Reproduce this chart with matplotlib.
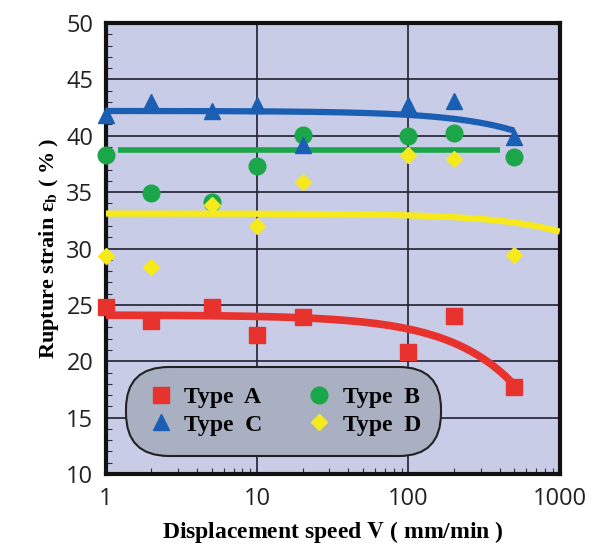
import numpy as np
import matplotlib.pyplot as plt
from matplotlib.ticker import MultipleLocator, LogLocator, NullFormatter

plt.rcParams['mathtext.fontset'] = 'stix'

# Vitesses de déplacement (mm/min)
speed = [1, 2, 5, 10, 20, 100, 200, 500]

# Déformation à la rupture (%) pour chaque type
type_a = [24.8, 23.6, 24.8, 22.3, 23.9, 20.8, 24.0, 17.7]
type_b = [38.3, 34.9, 34.1, 37.3, 40.1, 40.0, 40.2, 38.1]
type_c = [41.8, 43.0, 42.2, 42.7, 39.2, 42.7, 43.1, 39.9]
type_d = [29.3, 28.4, 33.9, 32.0, 35.9, 38.3, 37.9, 29.4]

# Droites de tendance  y = a - b*V  et leur étendue en V
fit_a = (24.1, 0.0124, 1, 500)
fit_b = (38.7, 0.0, 1.2, 400)
fit_c = (42.2, 0.0035, 1, 500)
fit_d = (33.1, 0.0016, 1, 1000)

red = '#e8322e'
green = '#1ca64a'
blue = '#1a5fb4'
yellow = '#f7ea1c'

fig = plt.figure(figsize=(5.98, 5.58), dpi=100)
ax = fig.add_axes([0.177, 0.1505, 0.759, 0.8083])
ax.set_facecolor('#c8cce6')

for (a, b, v0, v1), c, lw in [(fit_a, red, 5.5), (fit_c, blue, 4.5),
                              (fit_b, green, 4.0), (fit_d, yellow, 4.5)]:
    v = np.logspace(np.log10(v0), np.log10(v1), 200)
    ax.plot(v, a - b * v, color=c, lw=lw, solid_capstyle='butt', zorder=3)

ha, = ax.plot(speed, type_a, 's', color=red, ms=11, ls='none', zorder=4, clip_on=False)
hb, = ax.plot(speed, type_b, 'o', color=green, ms=12, ls='none', zorder=4, clip_on=False)
hc, = ax.plot(speed, type_c, '^', color=blue, ms=12, ls='none', zorder=4, clip_on=False)
hd, = ax.plot(speed, type_d, 'D', color=yellow, ms=8, ls='none', zorder=4, clip_on=False)

ax.set_xscale('log')
ax.set_xlim(1, 1000)
ax.set_ylim(10, 50)
ax.set_xticks([1, 10, 100, 1000])
ax.set_xticklabels(['1', '10', '100', '1000'])
ax.xaxis.set_minor_locator(LogLocator(base=10, subs=np.arange(2, 10)))
ax.xaxis.set_minor_formatter(NullFormatter())
ax.yaxis.set_major_locator(MultipleLocator(5))
ax.yaxis.set_minor_locator(MultipleLocator(1))

ax.grid(True, which='major', color='#202030', lw=1.2)
ax.set_axisbelow(True)
ax.tick_params(which='major', length=0, pad=9, labelsize=17, labelcolor='#222222')
ax.tick_params(which='minor', direction='in', length=4, width=0.8, color='#303040')
for lab in ax.get_xticklabels() + ax.get_yticklabels():
    lab.set_family('Open Sans')
for s in ax.spines.values():
    s.set_linewidth(3)
    s.set_color('#111111')

ax.set_xlabel(r'Displacement speed $\mathbf{V}$ ( mm/min )', family='Liberation Serif',
              fontweight='bold', fontsize=17, labelpad=6)
ax.set_ylabel('Rupture strain ε$_\\mathbf{b}$ ( % )', family='Liberation Serif',
              fontweight='bold', fontsize=16, labelpad=4)

# ordre colonne par colonne : A,C puis B,D
leg = ax.legend([ha, hc, hb, hd], ['Type  A', 'Type  C', 'Type  B', 'Type  D'],
                loc='lower left', bbox_to_anchor=(0.035, 0.03), ncol=2, frameon=True,
                prop={'family': 'Liberation Serif', 'weight': 'bold', 'size': 17},
                handletextpad=0.4, columnspacing=1.8, borderpad=0.55,
                handlelength=1.2, labelspacing=0.25, fancybox=True, framealpha=1)
fr = leg.get_frame()
fr.set_boxstyle('round,pad=0.3,rounding_size=1.8')
fr.set_facecolor('#a8b0c2')
fr.set_edgecolor('#222222')
fr.set_linewidth(1.5)
leg.set_zorder(5)

fig.savefig('out.png', dpi=100)
